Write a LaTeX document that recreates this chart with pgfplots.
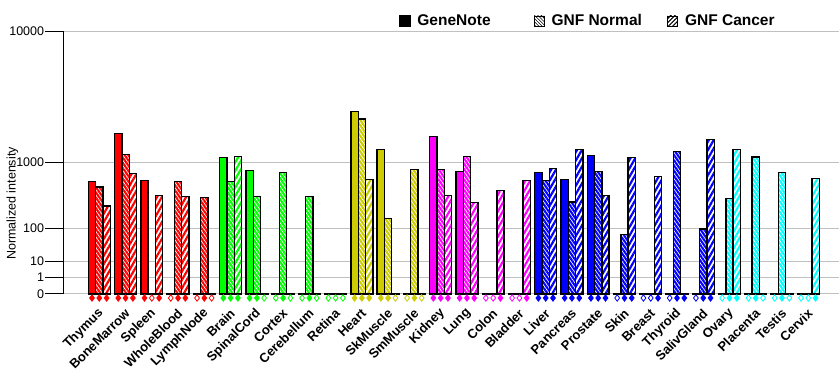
\documentclass[border=0pt]{standalone}
\usepackage{fontspec}
\setmainfont{Liberation Sans}
\usepackage{pgfplots}
\usepackage{pgfplotstable}
\pgfplotsset{compat=1.18}
\usetikzlibrary{patterns.meta}
\definecolor{cRed}{RGB}{255,0,0}
\definecolor{cGreen}{RGB}{0,255,0}
\definecolor{cOlive}{RGB}{204,204,0}
\definecolor{cMag}{RGB}{255,0,255}
\definecolor{cBlue}{RGB}{0,0,255}
\definecolor{cCyan}{RGB}{0,255,255}
\definecolor{gridgray}{RGB}{192,192,192}

% x = tissue index; gn/nor/can = GeneNote / GNF Normal / GNF Cancer; dg/dn/dc = call (f filled, h hollow)
\pgfplotstableread{
x gn nor can dg dn dc
0 594 506 264 f f f
1 1937 1216 747 f f f
2 612 0 382 f h f
3 0 601 369 h f f
4 0 357 0 h f h
}\tRed
\pgfplotstableread{
x gn nor can dg dn dc
5 1130 601 1159 f f f
6 810 369 0 f f h
7 0 776 0 h f h
8 0 369 0 h f h
9 0 0 0 h h h
}\tGreen
\pgfplotstableread{
x gn nor can dg dn dc
10 2970 2594 630 f f f
11 1367 160 0 f f h
12 0 832 0 h f h
}\tOlive
\pgfplotstableread{
x gn nor can dg dn dc
13 1820 832 382 f f f
14 789 1159 299 f f f
15 0 0 456 h h f
16 0 0 612 h h f
}\tMag
\pgfplotstableread{
x gn nor can dg dn dc
17 768 619 855 f f f
18 630 306 1367 f f f
19 1186 798 382 f f f
20 0 71 1130 h f f
21 0 0 687 h h f
22 0 1305 0 h f f
23 0 97 1707 h f f
}\tBlue
\pgfplotstableread{
x gn nor can dg dn dc
24 0 344 1367 h f f
25 0 1151 0 h f h
26 0 776 0 h f h
27 0 0 649 h h f
}\tCyan

\pgfplotsset{
  gnbar/.style={ybar, bar width=7.3pt, bar shift=-7.3pt, fill=#1, draw=black, line width=1.4pt},
  norbase/.style={ybar, bar width=7.3pt, bar shift=0pt, fill=white, draw=black, line width=1.4pt},
  norpat/.style={ybar, bar width=7.3pt, bar shift=0pt, draw=black, line width=1.4pt,
     pattern={Lines[angle=-55,distance=3pt,line width=2.1pt]}, pattern color=#1},
  canbase/.style={ybar, bar width=7.3pt, bar shift=7.3pt, fill=white, draw=black, line width=1.4pt},
  canpat/.style={ybar, bar width=7.3pt, bar shift=7.3pt, draw=black, line width=1.4pt,
     pattern={Lines[angle=60,distance=4.2pt,line width=2.2pt]}, pattern color=#1},
  dia/.style={only marks, scatter, scatter src=explicit symbolic,
     scatter/classes={
       f={mark=diamond*, mark size=3.2pt, draw=#1, fill=#1, line width=0.8pt},
       h={mark=diamond*, mark size=3.2pt, draw=#1, fill=white, line width=0.8pt}}},
}

\newcommand{\tissue}[2]{%
  \addplot[gnbar=#2] table[x=x, y expr={pw(\thisrow{gn})}]{#1};
  \addplot[norbase] table[x=x, y expr={pw(\thisrow{nor})}]{#1};
  \addplot[norpat=#2] table[x=x, y expr={pw(\thisrow{nor})}]{#1};
  \addplot[canbase] table[x=x, y expr={pw(\thisrow{can})}]{#1};
  \addplot[canpat=#2] table[x=x, y expr={pw(\thisrow{can})}]{#1};
  \addplot[dia=#2] table[x expr={\thisrow{x}-0.278}, y expr={-0.244}, meta=dg]{#1};
  \addplot[dia=#2] table[x=x, y expr={-0.244}, meta=dn]{#1};
  \addplot[dia=#2] table[x expr={\thisrow{x}+0.278}, y expr={-0.244}, meta=dc]{#1};
}

\begin{document}
\begin{tikzpicture}
\useasboundingbox (-63.3pt,-91pt) rectangle (776.7pt,294pt);
\begin{axis}[
  at={(0pt,0pt)}, anchor=south west,
  scale only axis, width=775.7pt, height=262.7pt,
  xmin=-1.371, xmax=28.17, ymin=0, ymax=16,
  clip=false,
  declare function={pw(\v)=exp(0.30103*ln(max(\v,1e-9)));},
  axis y line*=left, axis x line*=bottom,
  x axis line style={draw=none},
  y axis line style={black, line width=1.3pt},
  ytick={0,1,2,4,8,16}, yticklabels={0,1,10,100,1000,10000},
  ymajorgrids, grid style={gridgray, line width=1pt},
  tick align=outside, major tick length=18pt,
  ytick style={black, line width=1pt},
  xtick={0,...,27}, xtick style={draw=none},
  xticklabels={Thymus,BoneMarrow,Spleen,WholeBlood,LymphNode,Brain,SpinalCord,Cortex,Cerebellum,Retina,Heart,SkMuscle,SmMuscle,Kidney,Lung,Colon,Bladder,Liver,Pancreas,Prostate,Skin,Breast,Thyroid,SalivGland,Ovary,Placenta,Testis,Cervix},
  xticklabel style={font=\bfseries\fontsize{13}{15}\selectfont, xshift=2pt, yshift=1pt, rotate=45, anchor=east, inner sep=0pt},
  yticklabel style={font=\fontsize{12.5}{14}\selectfont, inner sep=1pt},
  /pgf/number format/assume math mode=true,
  ylabel={Normalized intensity},
  ylabel style={font=\fontsize{12.5}{14}\selectfont, at={(axis description cs:-0.0655,0.3445)}, anchor=center},
  legend style={at={(axis description cs:0.4328,1.0392)}, anchor=west, draw=none, fill=none,
     inner sep=0pt, outer sep=0pt, legend columns=3,
     font=\bfseries\fontsize{15.5}{18}\selectfont,
     nodes={inner sep=0pt},
     /tikz/every odd column/.style={column sep=7pt},
     /tikz/column 2/.style={column sep=43pt},
     /tikz/column 4/.style={column sep=25pt}},
]
\addlegendimage{legend image code/.code={\fill[black] (0pt,-5.5pt) rectangle (11pt,5.5pt);}}
\addlegendimage{legend image code/.code={%
  \fill[white] (0.5pt,-5pt) rectangle (10.5pt,5pt);
  \fill[pattern={Lines[angle=-45,distance=2.3pt,line width=0.7pt]}, pattern color=black] (0.5pt,-5pt) rectangle (10.5pt,5pt);
  \draw[black, line width=0.9pt] (0.5pt,-5pt) rectangle (10.5pt,5pt);}}
\addlegendimage{legend image code/.code={%
  \fill[white] (0.5pt,-5pt) rectangle (10.5pt,5pt);
  \fill[pattern={Lines[angle=45,distance=3pt,line width=1.1pt]}, pattern color=black] (0.5pt,-5pt) rectangle (10.5pt,5pt);
  \draw[black, line width=0.9pt] (0.5pt,-5pt) rectangle (10.5pt,5pt);}}
\legend{GeneNote,GNF Normal,GNF Cancer}
\tissue{\tRed}{cRed}
\tissue{\tGreen}{cGreen}
\tissue{\tOlive}{cOlive}
\tissue{\tMag}{cMag}
\tissue{\tBlue}{cBlue}
\tissue{\tCyan}{cCyan}
\end{axis}
\end{tikzpicture}
\end{document}
